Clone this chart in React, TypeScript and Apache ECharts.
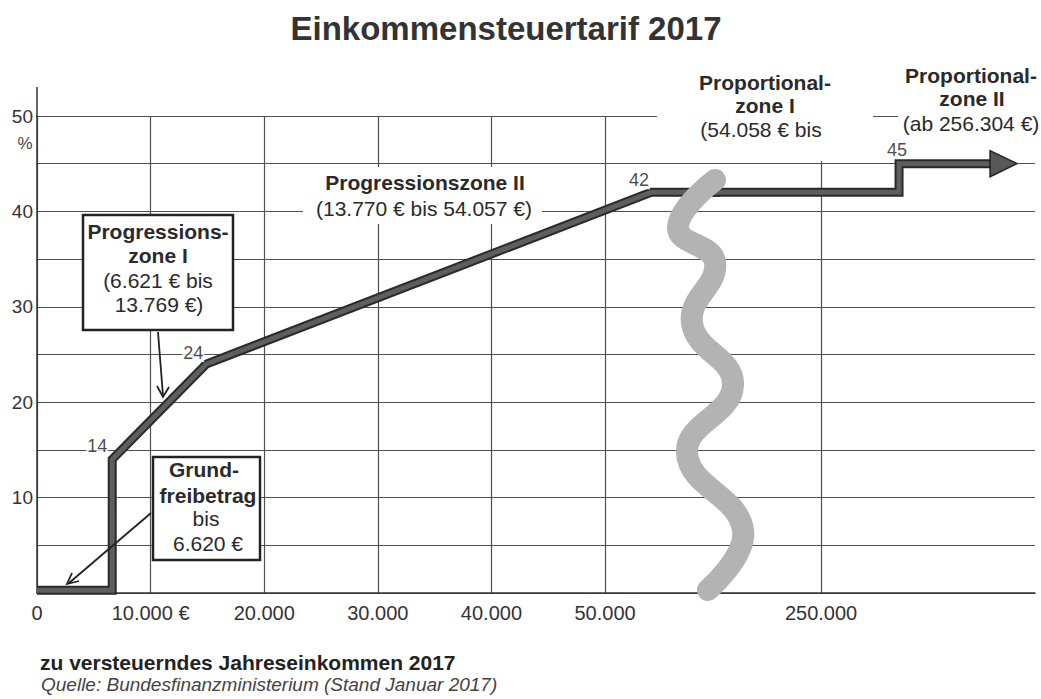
import React, { useEffect, useRef } from 'react';
import * as echarts from 'echarts';

// ---------- texts ----------
const chartTitle = 'Einkommensteuertarif 2017';
const xAxisTitle = 'zu versteuerndes Jahreseinkommen 2017';
const sourceNote = 'Quelle: Bundesfinanzministerium (Stand Januar 2017)';

// ---------- data ----------
// tariff curve: taxable income (€) and marginal tax rate (%)
const incomes = [0, 6620, 6620, 14900, 54057, 256303, 256303, 264750];
const rates = [0.3, 0.3, 14, 24, 42, 42, 45, 45];

// labelled corner points
const markedIncomes = [6620, 14900, 54057, 256303];
const markedRates = [14, 24, 42, 45];

// x ticks (left part of the broken axis, right part)
const leftTicks = [0, 10000, 20000, 30000, 40000, 50000];
const leftTickLabels = ['0', '10.000 €', '20.000', '30.000', '40.000', '50.000'];
const rightTicks = [250000];
const rightTickLabels = ['250.000'];
// y ticks with labels
const yLabelTicks = [10, 20, 30, 40, 50];

// ---------- layout / style ----------
const FONT = '"Liberation Sans", Arial, Helvetica, sans-serif';
const GRID_COLOR = '#505050';
const AXIS_COLOR = '#333';
const TEXT_COLOR = '#2a2a2a';
const LEFT_MAX = 59680;
const RIGHT_MIN = 241430;
const RIGHT_MAX = 267290;
const markLabelOffsets = [[-15, -13], [-13, -11], [-12, -12], [-2, -14]];

const labelFor = (ticks: number[], labels: string[], v: number) => {
  const i = ticks.indexOf(v);
  return i >= 0 ? labels[i] : '';
};

const txt = (text: string, x: number, y: number, size: number, weight: string = 'normal', align: string = 'center', style: string = 'normal', color: string = TEXT_COLOR) => ({
  type: 'text',
  x,
  y,
  z: 20,
  style: {
    text,
    fontSize: size,
    fontWeight: weight,
    fontStyle: style,
    fontFamily: FONT,
    fill: color,
    align,
    textAlign: align,
    verticalAlign: 'middle',
    textVerticalAlign: 'middle',
  },
});

const box = (x: number, y: number, w: number, h: number, bordered: boolean) => ({
  type: 'rect',
  z: 8,
  shape: { x, y, width: w, height: h },
  style: bordered ? { fill: '#fff', stroke: '#222', lineWidth: 2.5 } : { fill: '#fff', stroke: null },
});

const wavePoints = [[715, 180], [678, 228], [715, 262], [692, 323], [733, 385], [687, 453], [743, 530], [708, 590]];

function buildOption() {
  const curve = incomes.map((x, i) => [x, rates[i]]);
  const curveRight = curve.map((p, i) =>
    i === curve.length - 1
      ? { value: p, symbol: 'triangle', symbolSize: [26, 27], symbolRotate: -90, itemStyle: { color: '#585858', borderColor: '#222', borderWidth: 1.5 } }
      : { value: p, symbol: 'none' }
  );
  const marks = markedIncomes.map((x, i) => ({
    value: [x, markedRates[i]],
    label: { offset: markLabelOffsets[i] },
  }));
  const leftMarks = marks.filter((m) => m.value[0] <= LEFT_MAX);
  const rightMarks = marks.filter((m) => m.value[0] >= RIGHT_MIN);

  const splitLine = { show: true, lineStyle: { color: GRID_COLOR, width: 1.2 } };
  const axisLine = { show: true, onZero: false, lineStyle: { color: AXIS_COLOR, width: 1.5 } };
  const xLabel = { fontSize: 20, fontFamily: FONT, color: '#333', margin: 10 };

  const under = { width: 9, color: '#2a2a2a', join: 'miter', cap: 'butt' };
  const over = { width: 5, color: '#5e5e5e', join: 'miter', cap: 'butt' };

  const markLabel = {
    show: true,
    position: 'inside',
    formatter: (p: any) => String(p.value[1]),
    fontSize: 18,
    fontFamily: FONT,
    color: '#1a1a1a',
    backgroundColor: '#fff',
    padding: [0, 1],
  };

  return {
    animation: false,
    backgroundColor: '#fff',
    grid: [
      { left: 37, top: 116, width: 678, height: 477 },
      { left: 715, top: 116, width: 320, height: 477 },
    ],
    xAxis: [
      {
        type: 'value', gridIndex: 0, min: 0, max: LEFT_MAX,
        axisLine,
        axisTick: { show: false, customValues: leftTicks },
        splitLine,
        axisLabel: { ...xLabel, customValues: leftTicks, formatter: (v: number) => labelFor(leftTicks, leftTickLabels, v) },
      },
      {
        type: 'value', gridIndex: 1, min: RIGHT_MIN, max: RIGHT_MAX,
        axisLine,
        axisTick: { show: false, customValues: rightTicks },
        splitLine,
        axisLabel: { ...xLabel, customValues: rightTicks, formatter: (v: number) => labelFor(rightTicks, rightTickLabels, v) },
      },
    ],
    yAxis: [
      {
        type: 'value', gridIndex: 0, min: 0, max: 50, interval: 5,
        axisLine,
        axisTick: { show: false },
        splitLine,
        axisLabel: { fontSize: 19, fontFamily: FONT, color: '#333', margin: 4, formatter: (v: number) => (yLabelTicks.includes(v) ? String(v) : '') },
      },
      {
        type: 'value', gridIndex: 1, min: 0, max: 50, interval: 5,
        axisLine: { show: false },
        axisTick: { show: false },
        axisLabel: { show: false },
        splitLine,
      },
    ],
    series: [
      { type: 'line', xAxisIndex: 0, yAxisIndex: 0, data: curve, symbol: 'none', lineStyle: under, z: 3 },
      { type: 'line', xAxisIndex: 0, yAxisIndex: 0, data: curve, symbol: 'none', lineStyle: over, z: 4 },
      { type: 'line', xAxisIndex: 1, yAxisIndex: 1, data: curve, symbol: 'none', lineStyle: under, z: 3 },
      { type: 'line', xAxisIndex: 1, yAxisIndex: 1, data: curveRight, symbol: 'none', showSymbol: true, lineStyle: over, z: 4 },
      { type: 'scatter', xAxisIndex: 0, yAxisIndex: 0, data: leftMarks, symbolSize: 1, itemStyle: { color: 'rgba(0,0,0,0)' }, label: markLabel, z: 10 },
      { type: 'scatter', xAxisIndex: 1, yAxisIndex: 1, data: rightMarks, symbolSize: 1, itemStyle: { color: 'rgba(0,0,0,0)' }, label: markLabel, z: 10 },
    ],
    graphic: [
      // y axis continues above the 50 % line
      { type: 'line', z: 2, shape: { x1: 37, y1: 87, x2: 37, y2: 117 }, style: { stroke: AXIS_COLOR, lineWidth: 1.5 } },
      txt('%', 25, 143, 17, 'normal', 'center', 'normal', '#444'),
      // title, axis caption, source
      txt(chartTitle, 506, 28, 33, 'bold', 'center', 'normal', '#333'),
      txt(xAxisTitle, 40, 662, 21, 'bold', 'left', 'normal', '#222'),
      txt(sourceNote, 41, 684, 19, 'normal', 'left', 'italic', '#444'),

      // Progressionszone I box
      box(83, 215, 150, 115, true),
      txt('Progressions-', 158, 231, 21, 'bold'),
      txt('zone I', 158, 255, 21, 'bold'),
      txt('(6.621 € bis', 158, 280, 21),
      txt('13.769 €)', 159, 304, 21),
      { type: 'line', z: 9, shape: { x1: 158, y1: 332, x2: 163, y2: 396 }, style: { stroke: '#222', lineWidth: 1.8 } },
      { type: 'polyline', z: 9, shape: { points: [[157, 386], [163, 397], [169, 387]] }, style: { stroke: '#222', lineWidth: 1.8, fill: null } },

      // Grundfreibetrag box
      box(153, 457, 107, 103, true),
      txt('Grund-', 204, 469, 21, 'bold'),
      txt('freibetrag', 208, 495, 21, 'bold'),
      txt('bis', 206, 518, 21),
      txt('6.620 €', 208, 543, 21),
      { type: 'line', z: 9, shape: { x1: 151, y1: 513, x2: 69, y2: 583 }, style: { stroke: '#222', lineWidth: 1.8 } },
      { type: 'polyline', z: 9, shape: { points: [[72, 573], [67, 584], [79, 581]] }, style: { stroke: '#222', lineWidth: 1.8, fill: null } },

      // Progressionszone II label
      box(303, 167, 239, 57, false),
      txt('Progressionszone II', 425, 182, 21, 'bold'),
      txt('(13.770 € bis 54.057 €)', 424, 208, 21),

      // Proportionalzone I label
      box(657, 58, 216, 103, false),
      txt('Proportional-', 765, 82, 21, 'bold'),
      txt('zone I', 765, 105, 21, 'bold'),
      txt('(54.058 € bis', 761, 129, 21),

      // Proportionalzone II label
      box(898, 58, 143, 78, false),
      txt('Proportional-', 971, 75, 21, 'bold'),
      txt('zone II', 972, 98, 21, 'bold'),
      txt('(ab 256.304 €)', 971, 123, 21),

      // axis break marker
      {
        type: 'polyline', z: 15,
        shape: { points: wavePoints, smooth: 0.45 },
        style: { stroke: '#b3b3b3', lineWidth: 22, lineCap: 'round', lineJoin: 'round', fill: null },
      },
    ],
  };
}

export default function App() {
  const ref = useRef<HTMLDivElement>(null);
  useEffect(() => {
    if (!ref.current) return;
    const chart = echarts.init(ref.current, null, { renderer: 'svg' });
    chart.setOption(buildOption() as any);
    return () => chart.dispose();
  }, []);
  return (
    <div
      ref={ref}
      style={{ position: 'absolute', left: 0, top: 0, width: 1041, height: 699, background: '#fff' }}
    />
  );
}
